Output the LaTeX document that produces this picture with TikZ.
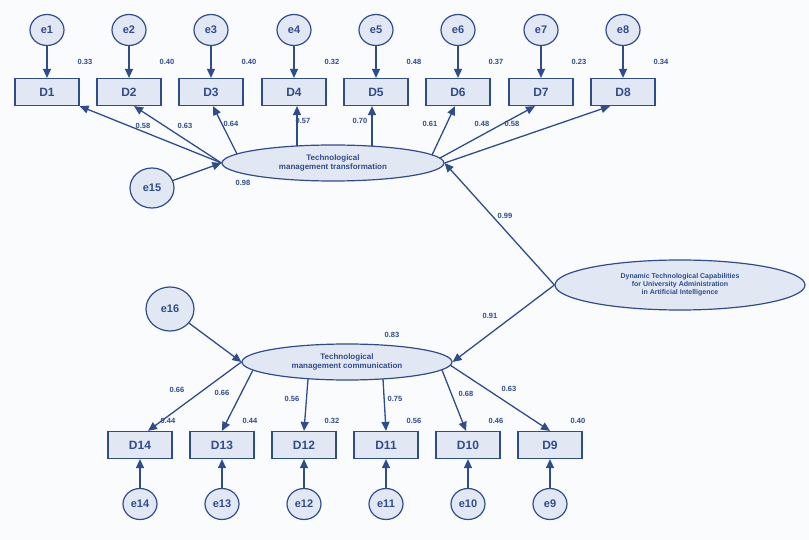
\documentclass[tikz,border=0pt]{standalone}
\usepackage{fontspec}
\setmainfont{Liberation Sans}
\usetikzlibrary{arrows.meta,shapes.geometric}
\definecolor{ln}{HTML}{2F4C8C}
\definecolor{fl}{HTML}{E2E8F3}
\definecolor{bg}{HTML}{FAFBFD}
\begin{document}
\begin{tikzpicture}[x=1pt,y=-1pt,
  box/.style={draw=ln,fill=fl,line width=1.2pt,minimum width=64pt,minimum height=27pt,inner sep=0pt,font=\fontsize{12}{13}\selectfont\bfseries,text=ln},
  err/.style={draw=ln,fill=fl,line width=1.2pt,ellipse,minimum width=34pt,minimum height=31pt,inner sep=0pt,font=\fontsize{11}{12}\selectfont\bfseries,text=ln},
  lat/.style={draw=ln,fill=fl,line width=1.2pt,ellipse,inner sep=0pt,font=\fontsize{8}{9}\selectfont\bfseries,text=ln,align=center},
  ar/.style={draw=ln,line width=1.3pt,-{Triangle[length=9pt,width=8pt]}},
  lb/.style={font=\fontsize{7.5}{8.5}\selectfont\bfseries,text=ln,inner sep=0pt}]
\fill[bg] (0,0) rectangle (809,540);
\useasboundingbox (0,0) rectangle (809,540);
% top
\foreach \i/\x/\v in {1/47/0.33,2/129/0.40,3/211/0.40,4/294/0.32,5/376/0.48,6/458/0.37,7/541/0.23,8/623/0.34}{
  \node[box] (D\i) at (\x,92) {D\i};
  \node[err] (e\i) at (\x,30) {e\i};
  \draw[ar] (e\i) -- (D\i);
  \node[lb] at (\x+38,62) {\v};
}
\node[lat,minimum width=222pt,minimum height=36pt] (T) at (333,163) {Technological\\management transformation};
\node[err,minimum width=44pt,minimum height=40pt] (e15) at (152,188) {e15};
\draw[ar] (e15) -- (T.west);
\node[lb] at (243,183) {0.98};
\coordinate (t3) at (237,154);
\coordinate (t4) at (297,146);
\coordinate (t5) at (372,146);
\coordinate (t6) at (432,155);
\coordinate (t7) at (440,158);
\draw[ar] (T.west) -- (D1.south east);
\draw[ar] (T.west) -- ([xshift=5pt]D2.south);
\draw[ar] (t3) -- ([xshift=2pt]D3.south);
\draw[ar] (t4) -- (t4 |- D4.south);
\draw[ar] (t5) -- (t5 |- D5.south);
\draw[ar] (t6) -- ([xshift=-3pt]D6.south);
\draw[ar] (t7) -- ([xshift=-6pt]D7.south);
\draw[ar] (T.east) -- ([xshift=-13pt]D8.south);
\foreach \x/\y/\v in {143/126/0.58,185/126/0.63,231/124/0.64,303/121/0.57,360/121/0.70,430/124/0.61,482/124/0.48,512/124/0.58}
  \node[lb] at (\x,\y) {\v};
% DTC
\node[lat,minimum width=250pt,minimum height=50pt,font=\fontsize{7}{8}\selectfont\bfseries] (G) at (680,285) {Dynamic Technological Capabilities\\for University Administration\\in Artificial Intelligence};
\node[lat,minimum width=210pt,minimum height=36pt] (C) at (347,362) {Technological\\management communication};
\draw[ar] (G.west) -- (T.east);
\draw[ar] (G.west) -- (C.east);
\node[lb] at (505,216) {0.99};
\node[lb] at (490,316) {0.91};
\node[lb] at (392,335) {0.83};
\node[err,minimum width=48pt,minimum height=44pt] (e16) at (170,309) {e16};
\draw[ar] (e16) -- (C.west);
% bottom
\foreach \i/\x/\v in {14/140/0.44,13/222/0.44,12/304/0.32,11/386/0.56,10/468/0.46,9/550/0.40}{
  \node[box] (D\i) at (\x,445) {D\i};
  \node[err] (e\i) at (\x,504) {e\i};
  \draw[ar] (e\i) -- (D\i);
  \node[lb] at (\x+28,421) {\v};
}
\coordinate (c13) at (253,370);
\coordinate (c12) at (308,379);
\coordinate (c11) at (383,379);
\coordinate (c10) at (442,370);
\coordinate (c9) at (450,365);
\draw[ar] (C.west) -- ([xshift=8pt]D14.north);
\draw[ar] (c13) -- (D13.north);
\draw[ar] (c12) -- (D12.north);
\draw[ar] (c11) -- (D11.north);
\draw[ar] (c10) -- ([xshift=-2pt]D10.north);
\draw[ar] (c9) -- (D9.north);
\foreach \x/\y/\v in {177/390/0.66,222/393/0.66,292/399/0.56,395/399/0.75,466/394/0.68,509/389/0.63}
  \node[lb] at (\x,\y) {\v};
\end{tikzpicture}
\end{document}
